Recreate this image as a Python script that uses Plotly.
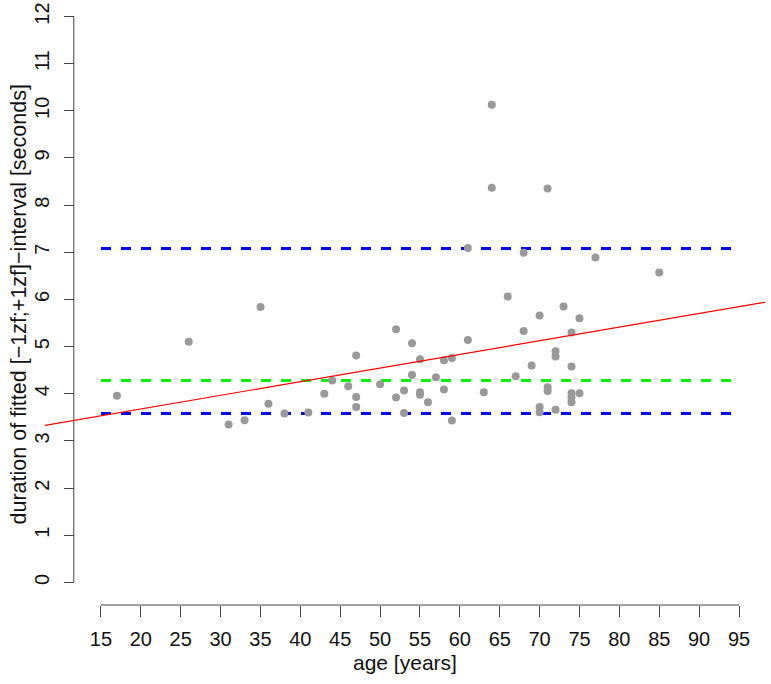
import plotly.graph_objects as go

# ---- data ----
age = [17, 26, 31, 33, 35, 36, 38, 41, 43, 44, 46, 47, 47, 47, 50, 52, 52, 53, 53,
       54, 54, 55, 55, 55, 56, 57, 58, 58, 59, 59, 61, 61, 63, 64, 64, 66, 67, 68,
       68, 69, 70, 70, 70, 71, 71, 71, 72, 72, 72, 73, 74, 74, 74, 74, 74, 75, 75,
       77, 85]
duration = [3.96, 5.10, 3.35, 3.44, 5.84, 3.79, 3.58, 3.60, 4.00, 4.28, 4.16, 4.81,
            3.93, 3.72, 4.20, 5.37, 3.92, 4.07, 3.59, 5.07, 4.40, 4.73, 4.03, 3.98,
            3.82, 4.35, 4.71, 4.09, 4.76, 3.43, 5.14, 7.09, 4.03, 10.13, 8.37, 6.06,
            4.37, 6.99, 5.33, 4.60, 5.66, 3.72, 3.61, 8.35, 4.14, 4.06, 4.90, 4.79,
            3.66, 5.85, 5.30, 4.58, 4.01, 3.92, 3.82, 5.60, 4.01, 6.89, 6.57]

fit_intercept = 3.10
fit_slope = 0.0289

upper_limit = 7.08
middle_level = 4.28
lower_limit = 3.58

x_ticks = list(range(15, 100, 5))
y_ticks = list(range(0, 13))
x_title = "age [years]"
y_title = "duration of fitted [\u22121zf;+1zf]\u2212interval [seconds]"

# ---- layout constants ----
W, H = 771, 684
ML, MR, MT, MB = 45, 6, 0, 79
x_range = [7.98, 98.26]
y_range = [-0.48, 12.35]
y_axis_pos = 0.04
FONT = "Liberation Sans, Arial, sans-serif"
AX = "#444444"
TXT = "#111111"

fig = go.Figure()

# horizontal reference lines
for val, col in [(upper_limit, "#0000ee"), (lower_limit, "#0000ee"), (middle_level, "#11ee11")]:
    fig.add_trace(go.Scatter(x=[x_ticks[0], x_ticks[-1]], y=[val, val], mode="lines",
                             line=dict(color=col, width=3, dash="10px,10px"),
                             hoverinfo="skip", showlegend=False))

# points
fig.add_trace(go.Scatter(x=age, y=duration, mode="markers",
                         marker=dict(color="#999999", size=8, line=dict(width=0)),
                         showlegend=False))

# regression line across the whole plot region
fx = x_range
fy = [fit_intercept + fit_slope * v for v in fx]
fig.add_trace(go.Scatter(x=fx, y=fy, mode="lines",
                         line=dict(color="#ff0000", width=1.2),
                         hoverinfo="skip", showlegend=False))

# axis lines (R style: only between first and last tick)
fig.add_shape(type="line", xref="x", yref="paper", x0=x_ticks[0], x1=x_ticks[-1], y0=0, y1=0,
              line=dict(color=AX, width=1))
fig.add_shape(type="line", xref="paper", yref="y", x0=y_axis_pos, x1=y_axis_pos,
              y0=y_ticks[0], y1=y_ticks[-1], line=dict(color=AX, width=1))

# axis titles
fig.add_annotation(text=x_title, xref="paper", yref="paper", x=0.5, y=0, yshift=-57,
                   xanchor="center", yanchor="middle", showarrow=False,
                   font=dict(family=FONT, size=21, color=TXT))
fig.add_annotation(text=y_title, xref="paper", yref="paper", x=0, xshift=-27, y=0.5,
                   yshift=-2, xanchor="center", yanchor="middle", textangle=-90,
                   showarrow=False, font=dict(family=FONT, size=21.5, color=TXT))

fig.update_layout(
    width=W, height=H,
    margin=dict(l=ML, r=MR, t=MT, b=MB),
    paper_bgcolor="white", plot_bgcolor="white",
    font=dict(family=FONT, size=20, color=TXT),
    xaxis=dict(range=x_range, tickvals=x_ticks, ticktext=[str(t) for t in x_ticks],
               ticks="outside", ticklen=11, tickwidth=1, tickcolor=AX,
               showgrid=False, zeroline=False, showline=False, automargin=False,
               ticklabelstandoff=5),
    yaxis=dict(range=y_range, tickvals=y_ticks, ticktext=[str(t) for t in y_ticks],
               anchor="free", position=y_axis_pos,
               ticks="outside", ticklen=10, tickwidth=1, tickcolor=AX, tickangle=-90,
               showgrid=False, zeroline=False, showline=False, automargin=False,
               ticklabelstandoff=7),
)

fig.write_html("out.html", config={"displayModeBar": False},
               post_script="document.body.style.margin='0';")
